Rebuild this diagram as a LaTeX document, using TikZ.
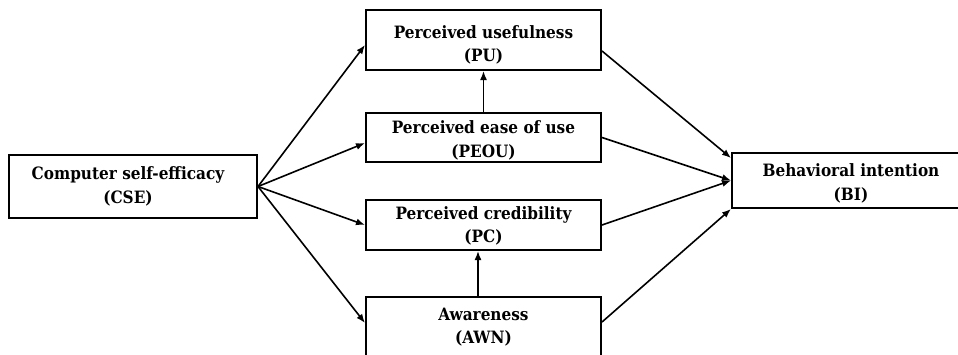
\documentclass[tikz,border=0pt]{standalone}
\usepackage{fontspec}
\setmainfont{DejaVu Serif Condensed}
\usetikzlibrary{arrows.meta}
\begin{document}
\begin{tikzpicture}[x=1pt,y=-1pt,
  construct/.style={draw=black, line width=2pt, fill=white, inner sep=0pt},
  caption/.style={inner sep=0pt, align=center,
    font=\bfseries\fontsize{17}{23.5}\selectfont},
  path/.style={line width=1.6pt, -{Latex[length=9pt,width=7pt]}}]
\useasboundingbox (0,0) rectangle (958,354);
% construct boxes
\node[construct, minimum width=248pt, minimum height=63pt] (cse) at (133,186.5) {};
\node[construct, minimum width=235pt, minimum height=60pt] (pu) at (483.5,40) {};
\node[construct, minimum width=235pt, minimum height=49pt] (pe) at (483.5,137.5) {};
\node[construct, minimum width=235pt, minimum height=50pt] (pc) at (483.5,225) {};
\node[construct, minimum width=235pt, minimum height=60pt] (aw) at (483.5,327) {};
\node[construct, minimum width=238pt, minimum height=55pt] (bi) at (851,180.5) {};
% construct names
\node[caption] (cse-t) at ([xshift=-5pt]cse.center) {Computer self-efficacy\\(CSE)};
\node[caption] (pu-t) at ([yshift=-5pt]pu.center) {Perceived usefulness\\(PU)};
\node[caption] (pe-t) at ([yshift=-3pt]pe.center) {Perceived ease of use\\(PEOU)};
\node[caption] (pc-t) at ([yshift=-1pt]pc.center) {Perceived credibility\\(PC)};
\node[caption] (aw-t) at (aw.center) {Awareness\\(AWN)};
\node[caption] (bi-t) at ([yshift=-3pt]bi.center) {Behavioral intention\\(BI)};
% paths from CSE
\draw[path] (cse.east) -- ([yshift=-5pt]pu.west);
\draw[path] (cse.east) -- ([yshift=-5.5pt]pe.west);
\draw[path] (cse.east) -- (pc.west);
\draw[path] (cse.east) -- ([yshift=4pt]aw.west);
% paths between mediators
\draw[path] (pe.north) -- (pu.south);
\draw[path] ([xshift=-5.5pt]aw.north) -- ([xshift=-5.5pt]pc.south);
% paths to BI
\draw[path] ([yshift=-11pt]pu.east) -- ([yshift=-6pt]bi.north west);
\draw[path] (pe.east) -- (bi.west);
\draw[path] (pc.east) -- (bi.west);
\draw[path] ([yshift=5pt]aw.east) -- (bi.south west);
\end{tikzpicture}
\end{document}
